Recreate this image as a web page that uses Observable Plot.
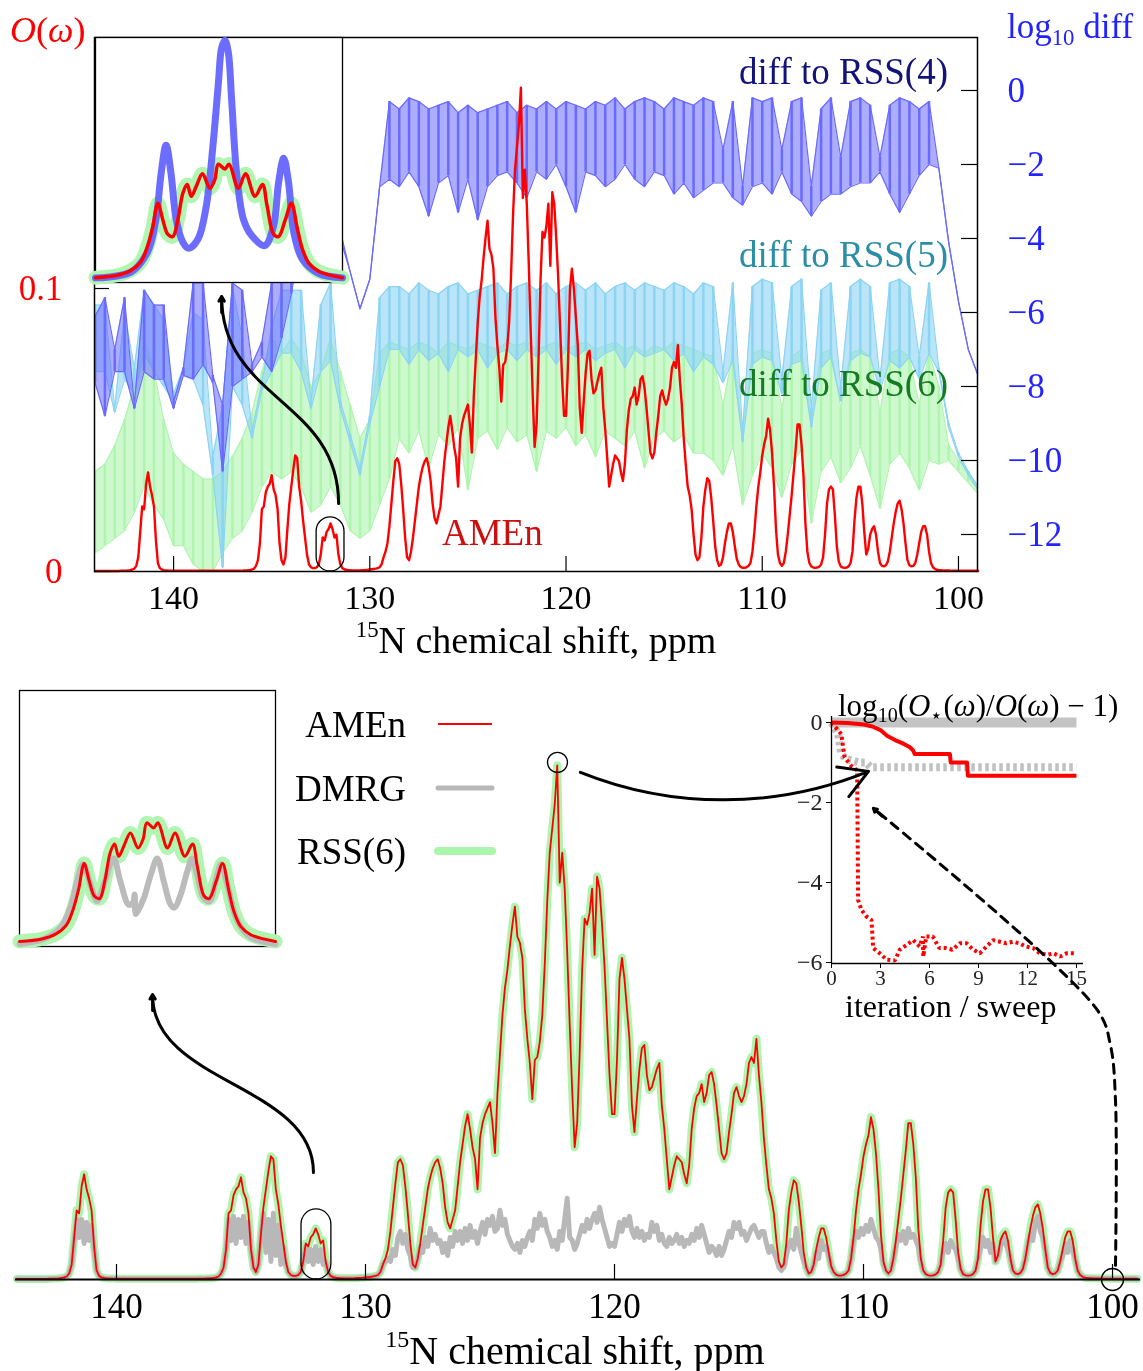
<!DOCTYPE html>
<html><head><meta charset="utf-8">
<script src="https://cdn.jsdelivr.net/npm/d3@7"></script>
<script src="https://cdn.jsdelivr.net/npm/@observablehq/plot@0.6"></script>
<style>
body{margin:0;background:#fff;}
#root{position:relative;width:1143px;height:1371px;overflow:hidden;font-family:'Liberation Serif','Times New Roman',serif;}
.lbl{position:absolute;line-height:1;white-space:nowrap;}
.lbl sup{font-size:0.6em;vertical-align:0.72em;line-height:0;}
.lbl sub{font-size:0.65em;vertical-align:-0.32em;line-height:0;}
</style></head>
<body><div id="root"></div>
<script>
// ---------------- DATA ----------------
// 15N spectrum sampled every 0.1 ppm from 144.0 down to 99.0, values in units of 1e-3 (O(omega))
const specStart = 144.0, specStep = 0.1;
const amen = [
0.2,0.2,0.2,0.2,0.2,0.2,0.2,0.2,0.2,0.2,
0.2,0.2,0.2,0.25,0.25,0.3,0.3,0.4,0.5,0.7,
1,2,5,14,23,22,31,35,30,27,
23,11,3,1.2,0.7,0.5,0.4,0.35,0.3,0.3,
0.25,0.25,0.25,0.25,0.25,0.25,0.25,0.25,0.25,0.25,
0.25,0.25,0.25,0.25,0.25,0.25,0.25,0.25,0.25,0.25,
0.25,0.25,0.25,0.25,0.25,0.25,0.25,0.25,0.25,0.25,
0.25,0.25,0.25,0.3,0.3,0.3,0.35,0.4,0.45,0.5,
0.7,1,2,4,10,22,23,28,30,31,
34,29,27,22,10,4,2.5,5,15,24,
30,36,41,40,30,25,18,12,6,2.5,
1.5,1.2,1.2,1.5,2.5,6,12,11,14,15,
17,15,12,13,6,2.5,1.2,0.8,0.6,0.5,
0.45,0.4,0.4,0.4,0.4,0.4,0.45,0.5,0.55,0.6,
0.7,0.8,0.9,1,1.2,1.5,2.5,5,7,10,
16,24,32,39,40,38,31,22,12,5,
4,7,12,18,24,30,34,37,39,40,
37,32,24,19,17,20,23,31,39,45,
51,55,50,44,40,30,47,52,55,57,
59,52,42,62,75,88,97,103,111,118,
124,114,112,107,90,80,72,60,73,74,
79,88,105,126,142,150,158,171,132,142,
130,109,85,63,44,52,75,103,120,118,
122,130,108,134,130,118,104,86,68,55,
55,73,100,107,100,90,80,58,49,60,
70,77,78,68,63,64,67,70,72,58,
50,40,30,34,38,41,40,39,35,32,
38,50,57,61,62,65,59,62,68,69,
65,58,50,42,40,42,49,55,62,64,
61,59,61,65,72,74,72,80,68,59,
47,38,30,27,22,13,6,4,5,12,
23,29,33,32,26,18,9,4,2,2.5,
5,10,14,17,17,14,9,4.5,2.5,1.6,
1.3,1.3,1.5,2,3,7,14,23,30,35,
41,45,48,54,50,42,30,15,6,3,
2,3,7,13,20,27,35,43,52,52,
45,34,17,7,3,1.8,1.4,1.3,1.4,1.7,
2.5,5,13,24,29,30,29,20,9,3.5,
1.8,1.4,1.3,1.4,1.8,3,7,18,26,30,
30,24,14,6,8,13,15,16,13,7,
3,2,1.8,2.2,3.5,7,12,17,21,24,
25,22,17,10,4,2.2,1.8,2,3,6,
10,14,16,16,13,7,3,1.5,0.9,0.6,
0.5,0.45,0.4,0.4,0.35,0.35,0.3,0.3,0.3,0.3,
0.25,0.25,0.25,0.25,0.25,0.25,0.25,0.25,0.25,0.25,
0.2];
const dmrg = [
0.2,0.2,0.2,0.2,0.2,0.2,0.2,0.2,0.2,0.2,
0.2,0.2,0.2,0.25,0.25,0.3,0.3,0.4,0.5,0.7,
1,2,5,13,20,14,20,12,19,13,
18,10,3,1.2,0.7,0.5,0.4,0.35,0.3,0.3,
0.25,0.25,0.25,0.25,0.25,0.25,0.25,0.25,0.25,0.25,
0.25,0.25,0.25,0.25,0.25,0.25,0.25,0.25,0.25,0.25,
0.25,0.25,0.25,0.25,0.25,0.25,0.25,0.25,0.25,0.25,
0.25,0.25,0.25,0.3,0.3,0.3,0.35,0.4,0.45,0.5,
0.7,1,2,4,10,20,13,21,12,20,
14,21,12,19,10,4,2.5,5,15,22,
9,20,6,22,8,18,5,11,5,2.5,
1.5,1.2,1.2,1.5,2.5,6,11,6,10,5,
11,6,10,5,6,2.5,1.2,0.8,0.6,0.5,
0.45,0.4,0.4,0.4,0.4,0.4,0.45,0.5,0.55,0.6,
0.7,0.8,0.9,1,1.2,1.5,2.5,5,6,7,
6,10,8,14,16,12,15,10,8,4,
4,7,11,9,14,11,17,13,15,12,
13,9,12,8,14,11,16,13,16,12,
17,13,18,14,16,12,16,19,15,20,
18,21,16,17,23,18,20,15,13,11,
10,12,9,13,11,14,16,13,20,17,
22,18,20,16,14,11,13,10,16,13,
20,27,14,13,10,12,15,18,16,20,
17,20,22,19,24,20,17,14,11,12,
11,15,19,16,20,18,21,16,14,17,
14,16,13,15,14,19,16,18,13,15,
12,11,14,12,13,15,12,14,11,13,
12,15,13,17,14,18,15,12,9,11,
10,8,11,8,10,13,16,14,19,17,
19,15,16,13,15,17,18,16,14,16,
16,12,9,11,9,7,4,3,4,8,
11,13,10,17,12,9,6,4,2,2.5,
5,9,7,13,10,11,8,4.5,2.5,1.6,
1.3,1.3,1.5,2,3,7,13,16,14,17,
15,18,16,20,17,14,13,10,5,3,
2,3,7,11,15,13,16,12,17,14,
15,13,11,6,3,1.8,1.4,1.3,1.4,1.7,
2.5,5,10,12,9,13,11,10,7,3.5,
1.8,1.4,1.3,1.4,1.8,3,7,10,14,11,
13,9,12,6,8,11,14,12,10,7,
3,2,1.8,2.2,3.5,7,12,15,13,19,
21,16,14,10,4,2.2,1.8,2,3,6,
8,12,9,13,10,7,3,1.5,0.9,0.6,
0.5,0.45,0.4,0.4,0.35,0.35,0.3,0.3,0.3,0.3,
0.25,0.25,0.25,0.25,0.25,0.25,0.25,0.25,0.25,0.25,
0.2];
const rss6 = amen; // RSS(6) coincides with AMEn at this scale

// log10 diff envelopes (low/high of the oscillating curves), every 0.5 ppm from 144.0 to 99.0
const diffStart = 144.0, diffStep = 0.5;
const rss4Hi = [-6.1,-5.6,-7.0,-5.6,-8.5,-5.4,-5.8,-5.8,-8.4,-7.5, -5.2,-5.2,-7.7,-8.5,-5.2,-5.4,-7.4,-6.8,-5.2,-4.5, -2.5,-2.0,-2.5,-3.5,-2.0,-3.8,-4.9,-5.9,-5.1,-2.6, -0.3,-0.5,-0.2,-0.3,-0.5,-0.4,-0.3,-0.6,-0.4,-0.6, -0.5,-0.4,-0.3,-0.6,-0.4,-0.5,-0.3,-0.5,-0.3,-0.4, -0.5,-0.3,-0.4,-0.2,-0.5,-0.3,-0.2,-0.3,-0.5,-0.2, -0.3,-0.4,-0.2,-0.3,-1.6,-0.3,-2.6,-0.2,-0.3,-0.2, -1.6,-0.3,-0.2,-2.6,-0.5,-0.2,-1.8,-0.3,-0.2,-0.4, -1.8,-0.4,-0.2,-0.3,-0.5,-0.3,-2.1,-4.1,-5.7,-7.0, -7.7];
const rss4Lo = [-7.9,-8.8,-7.6,-7.6,-8.6,-7.6,-7.8,-7.8,-8.6,-7.7, -7.8,-7.4,-7.9,-10.3,-8.0,-7.8,-7.6,-7.2,-7.6,-6.7, -5.5,-4.0,-4.5,-4.5,-4.0,-4.0,-4.9,-5.9,-5.1,-2.6, -2.4,-2.6,-2.2,-2.6,-3.4,-2.5,-2.3,-3.3,-2.4,-3.5, -2.6,-2.3,-2.2,-2.5,-2.9,-2.2,-2.4,-2.0,-2.6,-3.3, -2.2,-2.3,-2.6,-2.4,-2.0,-2.4,-2.6,-2.2,-2.3,-2.8, -2.5,-2.9,-2.7,-2.5,-2.5,-2.9,-3.1,-2.6,-2.5,-2.8, -2.2,-2.8,-3.0,-3.4,-3.0,-2.8,-2.8,-2.6,-2.5,-2.5, -2.2,-2.8,-3.3,-2.8,-2.3,-2.0,-2.1,-4.1,-5.7,-7.0, -7.7];
const rss5Hi = [-5.8,-5.8,-8.6,-6.0,-7.5,-5.4,-5.8,-6.2,-8.2,-7.5, -6.0,-6.2,-9.9,-8.5,-5.3,-6.7,-9.2,-7.9,-6.4,-5.4, -5.4,-5.4,-8.4,-5.8,-5.2,-8.4,-9.3,-10.2,-8.8,-5.6, -5.3,-5.3,-5.5,-5.2,-5.4,-5.5,-5.3,-5.2,-5.5,-5.4, -5.3,-5.2,-5.5,-5.3,-5.2,-5.4,-5.2,-5.5,-5.3,-5.2, -5.4,-5.2,-5.5,-5.3,-5.2,-5.4,-5.2,-5.3,-5.4,-5.2, -5.3,-5.5,-5.2,-5.3,-7.6,-5.2,-9.2,-5.3,-5.1,-5.2, -7.8,-5.3,-5.1,-8.6,-5.4,-5.2,-8.0,-5.3,-5.1,-5.3, -7.8,-5.2,-5.1,-5.3,-7.2,-5.2,-7.5,-9.0,-9.8,-10.3, -10.7];
const rss5Lo = [-7.6,-7.6,-8.7,-7.8,-8.2,-7.1,-7.6,-8.0,-8.4,-7.7, -7.8,-8.5,-10.4,-12.9,-8.0,-8.5,-9.4,-8.1,-7.6,-7.1, -7.1,-7.6,-8.6,-7.6,-7.3,-8.6,-9.5,-10.4,-9.0,-8.0, -7.0,-7.0,-7.4,-7.0,-7.3,-7.1,-7.6,-7.0,-7.2,-7.0, -7.5,-7.1,-7.0,-7.3,-7.0,-7.2,-7.0,-7.4,-7.0,-7.2, -7.0,-7.3,-7.1,-7.0,-7.5,-7.0,-7.2,-7.1,-7.0,-7.3, -7.1,-7.6,-7.2,-7.4,-7.9,-7.3,-9.5,-7.4,-7.2,-7.3, -8.2,-7.4,-7.3,-9.1,-7.5,-7.2,-8.4,-7.3,-7.1,-7.2, -8.1,-7.3,-7.5,-7.2,-7.8,-7.1,-7.6,-9.1,-9.9,-10.4, -10.8];
const rss6Hi = [-10.3,-10.1,-9.6,-8.9,-8.0,-6.7,-7.6,-8.9,-9.8,-10.1, -10.3,-10.5,-10.5,-10.3,-9.9,-9.4,-8.7,-7.6,-6.7,-7.1, -6.7,-7.1,-8.0,-7.6,-6.7,-7.6,-8.5,-9.4,-8.9,-7.1, -6.8,-6.9,-7.0,-6.8,-6.9,-7.1,-6.8,-6.9,-7.0,-6.8, -6.9,-7.0,-6.8,-6.9,-6.8,-7.0,-6.9,-6.8,-7.0,-6.9, -6.8,-7.0,-6.9,-6.8,-7.0,-6.9,-7.1,-6.9,-7.0,-6.8, -6.9,-7.0,-7.1,-7.2,-8.5,-7.1,-9.3,-7.1,-7.0,-7.1, -8.6,-7.2,-7.0,-8.9,-7.1,-7.0,-8.6,-7.1,-7.0,-7.2, -8.7,-7.1,-7.0,-7.2,-8.5,-7.1,-8.0,-9.6,-10.0,-10.3, -10.7];
const rss6Lo = [-12.5,-12.3,-12.1,-11.9,-11.4,-10.7,-11.2,-11.6,-12.3,-12.3, -12.8,-13.0,-13.0,-12.5,-12.1,-11.9,-11.4,-10.7,-10.3,-10.5, -10.3,-10.7,-11.4,-11.2,-10.7,-11.2,-11.9,-12.1,-11.9,-11.2, -10.5,-9.4,-9.8,-9.2,-10.2,-9.3,-9.6,-9.1,-10.8,-9.4, -9.2,-9.7,-9.1,-9.5,-9.3,-10.3,-9.2,-9.4,-9.1,-9.6, -9.3,-9.9,-9.2,-9.4,-9.6,-9.2,-10.2,-9.4,-9.2,-9.5, -9.3,-9.8,-9.8,-10.0,-10.4,-9.6,-11.2,-10.4,-9.8,-10.2, -11.0,-10.1,-9.7,-11.7,-10.3,-9.9,-10.6,-10.2,-9.6,-10.4, -11.3,-10.1,-9.8,-10.2,-10.8,-10.0,-10.1,-10.0,-10.3,-10.6, -10.9];

// zoom of the peak near 132 ppm (units 1e-3)
const insetRedPpm = [132.53,132.438,132.38,132.337,132.309,132.287,132.265,132.244,132.223,132.201,132.18,132.158,132.14,132.123,132.101,132.075,132.044,132.023,132.008,131.98,131.962,131.923,131.892,131.852,131.82,131.801,131.773,131.752,131.723,131.697,131.673,131.651,131.623,131.58,131.48];
const insetRed = [0.7,1.05,1.75,3.0,5.25,8.0,11.5,9.1,7.0,6.65,9.1,13.0,14.2,12.5,14.0,15.75,13.65,14.9,17.15,16.45,17.15,13.65,15.75,12.5,14.2,11.2,7.0,6.65,9.1,11.5,8.0,4.9,2.8,1.6,0.7];
const insetBluePpm = [132.53,132.38,132.309,132.273,132.251,132.23,132.209,132.187,132.158,132.134,132.094,132.059,132.03,132.008,131.994,131.98,131.966,131.951,131.93,131.901,131.866,131.811,131.773,131.752,131.73,131.709,131.687,131.651,131.58,131.48];
const insetBlue = [0.67,1.5,4.4,9.15,15.8,19.9,15.8,9.15,5.8,4.95,6.3,11.1,20.1,28.7,33.95,35.1,33.5,26.3,15.8,9.15,6.8,5.35,8.2,14.4,18.0,14.4,7.25,3.4,1.3,0.67];
const insetGrayPpm = [132.53,132.43,132.362,132.321,132.294,132.269,132.239,132.212,132.184,132.157,132.143,132.116,132.082,132.064,132.058,132.053,132.045,132.02,131.992,131.965,131.938,131.91,131.894,131.869,131.842,131.822,131.801,131.774,131.75,131.726,131.703,131.678,131.637,131.583,131.48];
const insetGray = [0.36,1.05,2.6,5.4,9.0,11.4,8.6,6.3,8.6,11.5,12.2,9.0,5.8,6.1,7.2,4.5,4.9,6.7,9.9,12.2,9.0,5.8,5.4,7.2,10.4,12.2,9.9,6.7,6.3,9.0,11.4,8.6,3.6,1.3,0.36];

// convergence inset: log10(O*/O - 1) vs iteration / sweep
const dmrgSolidIter = [0, 15], dmrgSolidVal = [0, 0];
const dmrgDotIter = [0,0.2,0.4,0.6,0.9,1.3,1.7,2.1,2.4,15];
const dmrgDotVal = [0,-0.12,-0.29,-0.79,-0.91,-0.95,-1.0,-1.0,-1.12,-1.12];
const amenSolidIter = [0,1,2,2.5,3,3.4,4,4.4,4.8,5.0,5.1,7.25,7.3,8.3,8.35,15];
const amenSolidVal = [0,-0.01,-0.05,-0.1,-0.19,-0.33,-0.46,-0.53,-0.62,-0.7,-0.79,-0.79,-1.0,-1.0,-1.33,-1.33];
const amenDotIter = [0,0.6,0.8,1.2,1.57,1.63,1.84,2.14,2.45,2.55,2.96,3.37,3.88,4.18,4.6,5.0,5.4,5.6,5.62,5.8,6.2,6.6,7.0,7.4,7.86,8.27,8.67,9.08,9.49,9.9,10.3,10.7,11.1,11.5,11.9,12.35,12.76,13.2,13.6,14.0,14.4,15];
const amenDotVal = [0,-0.29,-0.87,-1.08,-1.2,-4.44,-4.69,-4.85,-4.94,-5.64,-5.77,-5.93,-5.95,-5.68,-5.56,-5.44,-5.6,-5.35,-5.85,-5.35,-5.35,-5.64,-5.64,-5.68,-5.52,-5.52,-5.68,-5.77,-5.6,-5.44,-5.48,-5.52,-5.48,-5.52,-5.6,-5.64,-5.77,-5.81,-5.77,-5.85,-5.77,-5.77];

// ticks
const ppmTicks = [140, 130, 120, 110, 100];
const leftTicks = [0, 0.1];
const rightTicks = [0, -2, -4, -6, -8, -10, -12];
const convXTicks = [0, 3, 6, 9, 12, 15];
const convYTicks = [0, -2, -4, -6];

// annotation anchors (data coordinates)
const topBox = [{x1: 132.71, x2: 131.29, y1: 0, y2: 0.0191}];
const topArrow = [{x: 131.59, y: 0.0240}, {x: 137.55, y: 0.0972}];
const topArrowHead = [{x1: 137.55, y1: 0.0915, x2: 137.55, y2: 0.0972}];
const botBox = [{x1: 132.57, x2: 131.37, y1: 0, y2: 0.0233}];
const botArrow = [{x: 132.09, y: 0.0356}, {x: 138.55, y: 0.0945}];
const botArrowHead = [{x1: 138.55, y1: 0.0895, x2: 138.55, y2: 0.0948}];
const peakCircle = [{x: 122.29, y: 0.172}];
const edgeCircle = [{x: 100, y: 0}];
const convArrow = [{x1: 121.37, y1: 0.1687, x2: 109.8, y2: 0.1690}];
const dashPath = [{x: 99.88, y: 0.0047}, {x: 99.88, y: 0.0595}, {x: 100.08, y: 0.0778}, {x: 100.6, y: 0.0895}, {x: 109.6, y: 0.1567}];
const dashHead = [{x1: 109.24, y1: 0.1540, x2: 109.6, y2: 0.1567}];

// ---------------- BUILD ----------------
const SERIF = "'Liberation Serif','Times New Roman',serif";
const root = document.getElementById("root");
function put(node, left, top) {
  node.style.position = "absolute";
  node.style.left = left + "px";
  node.style.top = top + "px";
  root.appendChild(node);
  return node;
}
function label(html, o) {
  const d = document.createElement("div");
  d.className = "lbl";
  d.innerHTML = html;
  d.style.fontSize = o.size + "px";
  d.style.color = o.color || "black";
  d.style.top = (o.baseline - 0.8375 * o.size) + "px";
  if (o.left != null) d.style.left = o.left + "px";
  if (o.right != null) d.style.right = (1143 - o.right) + "px";
  if (o.center != null) { d.style.left = (o.center - 600) + "px"; d.style.width = "1200px"; d.style.textAlign = "center"; }
  root.appendChild(d);
}
const fmtMinus = d => d < 0 ? "\u2212" + (-d) : String(d);

const specRows = amen.map((v, i) => ({
  ppm: +(specStart - i * specStep).toFixed(1),
  amen: v / 1000, dmrg: dmrg[i] / 1000, rss6: rss6[i] / 1000
}));
const diffRows = rss4Hi.map((v, i) => ({
  ppm: diffStart - i * diffStep,
  b4hi: v, b4lo: rss4Lo[i], b5hi: rss5Hi[i], b5lo: rss5Lo[i], g6hi: rss6Hi[i], g6lo: rss6Lo[i]
}));
const zip = (xs, ys) => xs.map((x, i) => ({x, y: ys[i]}));

const X_TOP = [144.03, 99.03];

// --- top panel: diff curves (right axis) ---
const band = (lo, hi, color, op) => [
  Plot.areaY(diffRows, {x: "ppm", y1: lo, y2: hi, fill: color, fillOpacity: op, mixBlendMode: "multiply", clip: true}),
  Plot.ruleX(diffRows, {x: "ppm", y1: lo, y2: hi, stroke: color, strokeWidth: 2.5, mixBlendMode: "multiply", clip: true}),
  Plot.lineY(diffRows, {x: "ppm", y: hi, stroke: color, strokeWidth: 1.2, mixBlendMode: "multiply", clip: true}),
  Plot.lineY(diffRows, {x: "ppm", y: lo, stroke: color, strokeWidth: 1.2, mixBlendMode: "multiply", clip: true})
];
const diffPlot = Plot.plot({
  width: 1143, height: 660, marginLeft: 94, marginRight: 166, marginTop: 37, marginBottom: 89,
  x: {domain: X_TOP, axis: null},
  y: {domain: [-13.0, 1.432]},
  style: {background: "white", fontFamily: SERIF},
  marks: [
    ...band("g6lo", "g6hi", "#aef5ae", 0.6),
    ...band("b5lo", "b5hi", "#8cd4f4", 0.6),
    ...band("b4lo", "b4hi", "#6a6aff", 0.55),
    Plot.axisY({anchor: "right", ticks: rightTicks, tickSize: -17, tickPadding: 47, fontSize: 35,
      fill: "#2424ff", stroke: "black", strokeWidth: 1.2, label: null, tickFormat: fmtMinus})
  ]
});
put(diffPlot, 0, 0);

// --- top panel: AMEn spectrum (left axis) ---
const redPlot = Plot.plot({
  width: 1143, height: 660, marginLeft: 94, marginRight: 166, marginTop: 37, marginBottom: 89,
  x: {domain: X_TOP},
  y: {domain: [0, 0.1887]},
  style: {background: "transparent", fontFamily: SERIF},
  marks: [
    Plot.lineY(specRows, {x: "ppm", y: "amen", stroke: "#ff0000", strokeWidth: 2.4}),
    Plot.rect(topBox, {x1: "x1", x2: "x2", y1: "y1", y2: "y2", rx: 14, fill: "none", stroke: "black", strokeWidth: 1.3}),
    Plot.line(topArrow, {x: "x", y: "y", curve: "bump-y", stroke: "black", strokeWidth: 3}),
    Plot.arrow(topArrowHead, {x1: "x1", y1: "y1", x2: "x2", y2: "y2", headLength: 16, stroke: "black", strokeWidth: 3}),
    Plot.frame({stroke: "black", strokeWidth: 1.5}),
    Plot.axisX({ticks: ppmTicks, tickSize: -15, tickPadding: 28, fontSize: 34, label: null, fill: "black", stroke: "black", strokeWidth: 1.2}),
    Plot.axisY({ticks: leftTicks, tickSize: -15, tickPadding: 47, fontSize: 35, label: null, fill: "#ff0000", stroke: "black", strokeWidth: 1.2,
      tickFormat: d => d === 0 ? "0" : "0.1"})
  ]
});
put(redPlot, 0, 0);

// --- top-left inset ---
const topInset = Plot.plot({
  width: 267, height: 265, marginLeft: 10, marginRight: 10, marginTop: 10, marginBottom: 10,
  x: {domain: [132.53, 131.48], axis: null},
  y: {domain: [0, 35.5], axis: null},
  style: {background: "transparent"},
  marks: [
    Plot.frame({fill: "white", stroke: "black", strokeWidth: 1.3}),
    Plot.line(zip(insetRedPpm, insetRed), {x: "x", y: "y", curve: "catmull-rom", stroke: "#b0f5b0", strokeWidth: 14, strokeLinecap: "round"}),
    Plot.line(zip(insetBluePpm, insetBlue), {x: "x", y: "y", curve: "catmull-rom", stroke: "#6464ff", strokeWidth: 7, strokeOpacity: 0.95, strokeLinecap: "round"}),
    Plot.line(zip(insetRedPpm, insetRed), {x: "x", y: "y", curve: "catmull-rom", stroke: "#ff0000", strokeWidth: 3.5})
  ]
});
put(topInset, 85, 27);

// --- bottom-left inset ---
const botInset = Plot.plot({
  width: 276, height: 276, marginLeft: 10, marginRight: 10, marginTop: 10, marginBottom: 10,
  x: {domain: [132.53, 131.48], axis: null},
  y: {domain: [0, 35.5], axis: null},
  style: {background: "transparent"},
  marks: [
    Plot.frame({fill: "white", stroke: "black", strokeWidth: 1.3}),
    Plot.line(zip(insetRedPpm, insetRed), {x: "x", y: "y", curve: "catmull-rom", stroke: "#b0f5b0", strokeWidth: 14, strokeLinecap: "round"}),
    Plot.line(zip(insetGrayPpm, insetGray), {x: "x", y: "y", curve: "catmull-rom", stroke: "#bbbbbb", strokeWidth: 6}),
    Plot.line(zip(insetRedPpm, insetRed), {x: "x", y: "y", curve: "catmull-rom", stroke: "#ff0000", strokeWidth: 3})
  ]
});
put(botInset, 9, 680);

// --- convergence inset ---
const CONV_Y = [-6.025, 0.15];
const convPlot = Plot.plot({
  width: 363, height: 330, marginLeft: 51, marginRight: 60, marginTop: 26, marginBottom: 57,
  x: {domain: [0, 15.43]},
  y: {domain: CONV_Y},
  style: {background: "transparent", fontFamily: SERIF},
  marks: [
    Plot.line(zip(dmrgSolidIter, dmrgSolidVal), {x: "x", y: "y", stroke: "#c4c4c4", strokeWidth: 10, strokeLinecap: "butt"}),
    Plot.line(zip(dmrgDotIter, dmrgDotVal), {x: "x", y: "y", stroke: "#c0c0c0", strokeWidth: 8, strokeDasharray: "3.5,3.5", strokeLinecap: "butt", strokeLinejoin: "miter"}),
    Plot.line(zip(amenDotIter, amenDotVal), {x: "x", y: "y", stroke: "#ff0000", strokeWidth: 4, strokeDasharray: "3,3", strokeLinecap: "butt", strokeLinejoin: "miter"}),
    Plot.line(zip(amenSolidIter, amenSolidVal), {x: "x", y: "y", stroke: "#ff0000", strokeWidth: 4, strokeLinecap: "butt"}),
    Plot.ruleX([0], {stroke: "black", strokeWidth: 1.3}),
    Plot.ruleY([CONV_Y[0]], {stroke: "black", strokeWidth: 1.3}),
    Plot.axisX({ticks: convXTicks, tickSize: 5, tickPadding: 2, fontSize: 21, label: null, fill: "#222", stroke: "black"}),
    Plot.axisY({ticks: convYTicks, tickSize: 5, tickPadding: 4, fontSize: 24, label: null, fill: "#222", stroke: "black", tickFormat: fmtMinus})
  ]
});
put(convPlot, 780, 690);

// --- bottom main spectrum (with arrows on top) ---
const bottomPlot = Plot.plot({
  width: 1143, height: 681, marginLeft: 15, marginRight: 3, marginTop: 0, marginBottom: 92,
  x: {domain: [144.056, 98.876]},
  y: {domain: [0, 0.1959], axis: null},
  style: {background: "transparent", fontFamily: SERIF},
  marks: [
    Plot.lineY(specRows, {x: "ppm", y: "rss6", stroke: "#acf5ac", strokeWidth: 8, strokeLinejoin: "round"}),
    Plot.lineY(specRows, {x: "ppm", y: "dmrg", stroke: "#b8b8b8", strokeWidth: 5, strokeLinejoin: "round"}),
    Plot.lineY(specRows, {x: "ppm", y: "amen", stroke: "#ff0000", strokeWidth: 1.8}),
    Plot.ruleY([0], {stroke: "black", strokeWidth: 2}),
    Plot.axisX({ticks: ppmTicks, tickSize: -15, tickPadding: 29, fontSize: 35, label: null, fill: "black", stroke: "black", strokeWidth: 1.2}),
    Plot.rect(botBox, {x1: "x1", x2: "x2", y1: "y1", y2: "y2", rx: 15, fill: "none", stroke: "black", strokeWidth: 1.3}),
    Plot.dot(peakCircle, {x: "x", y: "y", r: 10, stroke: "black", strokeWidth: 1.3, fill: "none"}),
    Plot.dot(edgeCircle, {x: "x", y: "y", r: 11, stroke: "black", strokeWidth: 1.3, fill: "none"}),
    Plot.line(botArrow, {x: "x", y: "y", curve: "bump-y", stroke: "black", strokeWidth: 3}),
    Plot.arrow(botArrowHead, {x1: "x1", y1: "y1", x2: "x2", y2: "y2", headLength: 16, stroke: "black", strokeWidth: 3}),
    Plot.arrow(convArrow, {x1: "x1", y1: "y1", x2: "x2", y2: "y2", bend: -22, headLength: 16, stroke: "black", strokeWidth: 3}),
    Plot.line(dashPath, {x: "x", y: "y", curve: "catmull-rom", stroke: "black", strokeWidth: 3, strokeDasharray: "9,7"}),
    Plot.arrow(dashHead, {x1: "x1", y1: "y1", x2: "x2", y2: "y2", headLength: 16, stroke: "black", strokeWidth: 3})
  ]
});
put(bottomPlot, 0, 690);

// legend swatches
const leg = d3.create("svg").attr("width", 80).attr("height", 180);
leg.append("line").attr("x1", 8).attr("x2", 62).attr("y1", 34).attr("y2", 34).attr("stroke", "#ff0000").attr("stroke-width", 1.8);
leg.append("line").attr("x1", 8).attr("x2", 62).attr("y1", 98).attr("y2", 98).attr("stroke", "#b8b8b8").attr("stroke-width", 5).attr("stroke-linecap", "round");
leg.append("line").attr("x1", 8).attr("x2", 62).attr("y1", 161).attr("y2", 161).attr("stroke", "#acf5ac").attr("stroke-width", 8).attr("stroke-linecap", "round");
put(leg.node(), 430, 690);

// ---------------- TEXT ----------------
label("<i>O</i>(<i>ω</i>)", {left: 10, baseline: 42, size: 36, color: "#ff0000"});
label("log<sub>10</sub> diff", {left: 1007, baseline: 38, size: 35, color: "#2222ff"});
label("diff to RSS(4)", {right: 948, baseline: 84, size: 37, color: "#12127a"});
label("diff to RSS(5)", {right: 948, baseline: 267, size: 37, color: "#2a8ea6"});
label("diff to RSS(6)", {right: 948, baseline: 396, size: 37, color: "#157a22"});
label("AMEn", {left: 442, baseline: 545, size: 37, color: "#cc1010"});
label("<sup>15</sup>N chemical shift, ppm", {center: 536, baseline: 653, size: 38});
label("<sup>15</sup>N chemical shift, ppm", {center: 575, baseline: 1364, size: 40});
label("AMEn", {right: 406, baseline: 737, size: 37});
label("DMRG", {right: 406, baseline: 801, size: 37});
label("RSS(6)", {right: 406, baseline: 864, size: 37});
label("log<sub>10</sub>(<i>O</i><sub>⋆</sub>(<i>ω</i>)/<i>O</i>(<i>ω</i>) − 1)", {left: 838, baseline: 716, size: 31});
label("iteration / sweep", {left: 845, baseline: 1017, size: 32});
</script>
</body></html>
